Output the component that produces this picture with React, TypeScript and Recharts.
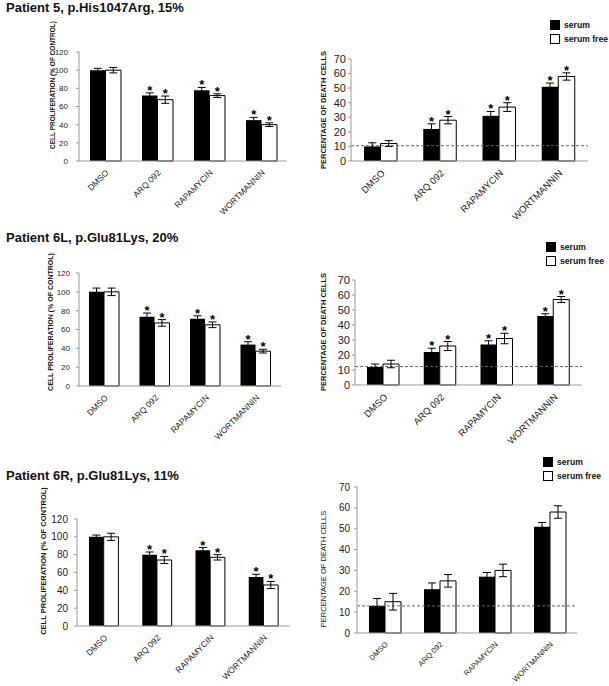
import React from "react";
import { BarChart, Bar, XAxis, YAxis, ErrorBar, LabelList, ReferenceLine } from "recharts";

const categories = ["DMSO", "ARQ 092", "RAPAMYCIN", "WORTMANNIN"];

// proliferation (% of control)
const p5ProlSerum = [100, 72, 78, 45];
const p5ProlSerumErr = [2, 3, 3, 3];
const p5ProlFree = [100, 67.5, 72, 40];
const p5ProlFreeErr = [3, 4, 2, 2];

const p6LProlSerum = [100, 73.5, 71.5, 44];
const p6LProlSerumErr = [4, 4, 3, 3];
const p6LProlFree = [100, 67, 65, 37];
const p6LProlFreeErr = [4, 3.5, 3, 2];

const p6RProlSerum = [100, 80, 85, 55];
const p6RProlSerumErr = [2, 3, 3, 3];
const p6RProlFree = [100, 74, 77, 46];
const p6RProlFreeErr = [4, 4, 3, 4];

// percentage of death cells
const p5DeathSerum = [10, 22, 31, 51];
const p5DeathSerumErr = [2.5, 3.5, 3, 2.5];
const p5DeathFree = [12, 28, 37, 58];
const p5DeathFreeErr = [2, 2.5, 3, 2.5];

const p6LDeathSerum = [12, 22, 27, 46];
const p6LDeathSerumErr = [2, 2.5, 2.5, 1.5];
const p6LDeathFree = [14, 26, 31, 57];
const p6LDeathFreeErr = [2.5, 3, 3.5, 2];

const p6RDeathSerum = [13, 21, 27, 51];
const p6RDeathSerumErr = [3.5, 3, 2, 2];
const p6RDeathFree = [15, 25, 30, 58];
const p6RDeathFreeErr = [4, 3, 3, 3];

const starsAll = [false, true, true, true];
const starsNone = [false, false, false, false];

const prolTicks = [0, 20, 40, 60, 80, 100, 120];
const deathTicks = [0, 10, 20, 30, 40, 50, 60, 70];

const FONT = "'Liberation Sans', Arial, sans-serif";

function build(serum: number[], serumErr: number[], free: number[], freeErr: number[], stars: boolean[]) {
  return categories.map((cat, i) => ({
    cat,
    serum: serum[i],
    serumErr: serumErr[i],
    free: free[i],
    freeErr: freeErr[i],
    star: stars[i],
  }));
}

const starLabel = (rows: any[], errKey: string) => (props: any) => {
  const { x, y, width, height, value, index } = props;
  const row = rows[index];
  if (!row || !row.star || !value) return null;
  const perUnit = height / value;
  const top = y - row[errKey] * perUnit;
  return (
    <text x={x + width / 2} y={top + 2} textAnchor="middle" fontSize={13} fontWeight="bold" fontFamily={FONT} fill="#000">
      *
    </text>
  );
};

const YTitle = ({ text, cx, cy, size, bold }: any) => (
  <text
    x={cx}
    y={cy}
    transform={`rotate(-90 ${cx} ${cy})`}
    textAnchor="middle"
    dominantBaseline="central"
    fontSize={size}
    fontWeight={bold ? "bold" : "normal"}
    fontFamily={FONT}
    fill="#111"
  >
    {text}
  </text>
);

function Panel(p: any) {
  const margin = { top: p.y0 - p.T, right: p.L + p.W - p.x1, bottom: 0, left: p.x0 - p.L - p.yw };
  return (
    <div style={{ position: "absolute", left: p.L, top: p.T }}>
      <BarChart width={p.W} height={p.H} data={p.data} margin={margin} barGap={0} barSize={p.barSize}>
        <XAxis
          dataKey="cat"
          interval={0}
          angle={-45}
          textAnchor="end"
          height={p.T + p.H - p.y1}
          tickLine={false}
          axisLine={{ stroke: "#999" }}
          tick={{ fontSize: p.catSize, fill: "#222", fontFamily: FONT }}
        />
        <YAxis
          width={p.yw}
          domain={p.domain}
          ticks={p.ticks}
          interval={0}
          tickSize={3}
          tickMargin={p.tickMargin}
          axisLine={{ stroke: "#999" }}
          tickLine={{ stroke: "#999" }}
          tick={{ fontSize: p.tickSize, fill: "#222", fontFamily: FONT }}
          label={<YTitle text={p.yTitle} cx={p.yTitleX - p.L} cy={p.yTitleY - p.T} size={p.yTitleSize} bold={p.yTitleBold} />}
        />
        {p.refY != null && <ReferenceLine y={p.refY} stroke="#666" strokeDasharray="3 2" />}
        <Bar dataKey="serum" fill="#000" isAnimationActive={false}>
          <ErrorBar dataKey="serumErr" width={4} stroke="#000" strokeWidth={1} />
          <LabelList content={starLabel(p.data, "serumErr")} />
        </Bar>
        <Bar dataKey="free" fill="#fff" stroke="#000" strokeWidth={1} isAnimationActive={false}>
          <ErrorBar dataKey="freeErr" width={4} stroke="#000" strokeWidth={1} />
          <LabelList content={starLabel(p.data, "freeErr")} />
        </Bar>
      </BarChart>
    </div>
  );
}

const Title = ({ text, top }: any) => (
  <div style={{ position: "absolute", left: 6, top, fontFamily: FONT, fontWeight: "bold", fontSize: 13, lineHeight: "15px", color: "#111", whiteSpace: "nowrap" }}>
    {text}
  </div>
);

const LegendBox = ({ left, top }: any) => (
  <div style={{ position: "absolute", left, top, fontFamily: FONT, fontWeight: "bold", fontSize: 8.6, color: "#111", whiteSpace: "nowrap" }}>
    <div style={{ display: "flex", alignItems: "center", height: 14 }}>
      <span style={{ width: 8, height: 8, flex: "none", background: "#000", border: "1px solid #000", marginRight: 4 }} />
      serum
    </div>
    <div style={{ display: "flex", alignItems: "center", height: 14 }}>
      <span style={{ width: 8, height: 8, flex: "none", background: "#fff", border: "1px solid #000", marginRight: 4 }} />
      serum free
    </div>
  </div>
);

export default function App() {
  return (
    <div style={{ position: "absolute", left: 0, top: 0, width: 609, height: 686, background: "#fff", overflow: "hidden" }}>
      <Title text="Patient 5, p.His1047Arg, 15%" top={0} />
      <Title text="Patient 6L, p.Glu81Lys, 20%" top={230} />
      <Title text="Patient 6R, p.Glu81Lys, 11%" top={468} />

      <Panel
        L={0} T={20} W={300} H={210} x0={79} x1={287} y0={52} y1={161} yw={30}
        data={build(p5ProlSerum, p5ProlSerumErr, p5ProlFree, p5ProlFreeErr, starsAll)}
        domain={[0, 120]} ticks={prolTicks} tickSize={8} tickMargin={8} catSize={8.5} barSize={15.5}
        yTitle="CELL PROLIFERATION (% OF CONTROL)" yTitleX={52} yTitleY={85} yTitleSize={6.5} yTitleBold
      />
      <Panel
        L={300} T={0} W={309} H={230} x0={351} x1={588} y0={59} y1={161} yw={30}
        data={build(p5DeathSerum, p5DeathSerumErr, p5DeathFree, p5DeathFreeErr, starsAll)}
        domain={[0, 70]} ticks={deathTicks} tickSize={11} tickMargin={2} catSize={9.5} barSize={16.5}
        yTitle="PERCENTAGE OF DEATH CELLS" yTitleX={323} yTitleY={110} yTitleSize={7.5} yTitleBold refY={10.5}
      />
      <LegendBox left={550} top={18} />

      <Panel
        L={0} T={250} W={300} H={210} x0={79} x1={281} y0={273} y1={386} yw={30}
        data={build(p6LProlSerum, p6LProlSerumErr, p6LProlFree, p6LProlFreeErr, starsAll)}
        domain={[0, 120]} ticks={prolTicks} tickSize={8} tickMargin={6} catSize={8.5} barSize={15}
        yTitle="CELL PROLIFERATION (% OF CONTROL)" yTitleX={50} yTitleY={322} yTitleSize={7} yTitleBold
      />
      <Panel
        L={300} T={230} W={309} H={230} x0={355} x1={582} y0={280} y1={385} yw={30}
        data={build(p6LDeathSerum, p6LDeathSerumErr, p6LDeathFree, p6LDeathFreeErr, starsAll)}
        domain={[0, 70]} ticks={deathTicks} tickSize={11} tickMargin={2} catSize={9.5} barSize={16}
        yTitle="PERCENTAGE OF DEATH CELLS" yTitleX={323} yTitleY={332} yTitleSize={7.5} yTitleBold refY={12.3}
      />
      <LegendBox left={546} top={240} />

      <Panel
        L={0} T={480} W={300} H={206} x0={77} x1={290} y0={519} y1={626} yw={30}
        data={build(p6RProlSerum, p6RProlSerumErr, p6RProlFree, p6RProlFreeErr, starsAll)}
        domain={[0, 120]} ticks={prolTicks} tickSize={10} tickMargin={6} catSize={8.5} barSize={14.7}
        yTitle="CELL PROLIFERATION (% OF CONTROL)" yTitleX={43} yTitleY={561} yTitleSize={7.5} yTitleBold
      />
      <Panel
        L={300} T={455} W={309} H={231} x0={357} x1={577} y0={487} y1={633} yw={30}
        data={build(p6RDeathSerum, p6RDeathSerumErr, p6RDeathFree, p6RDeathFreeErr, starsNone)}
        domain={[0, 70]} ticks={deathTicks} tickSize={10} tickMargin={4} catSize={7.6} barSize={16}
        yTitle="PERCENTAGE OF DEATH CELLS" yTitleX={323} yTitleY={569} yTitleSize={7.5} refY={13}
      />
      <LegendBox left={543} top={455} />
    </div>
  );
}
